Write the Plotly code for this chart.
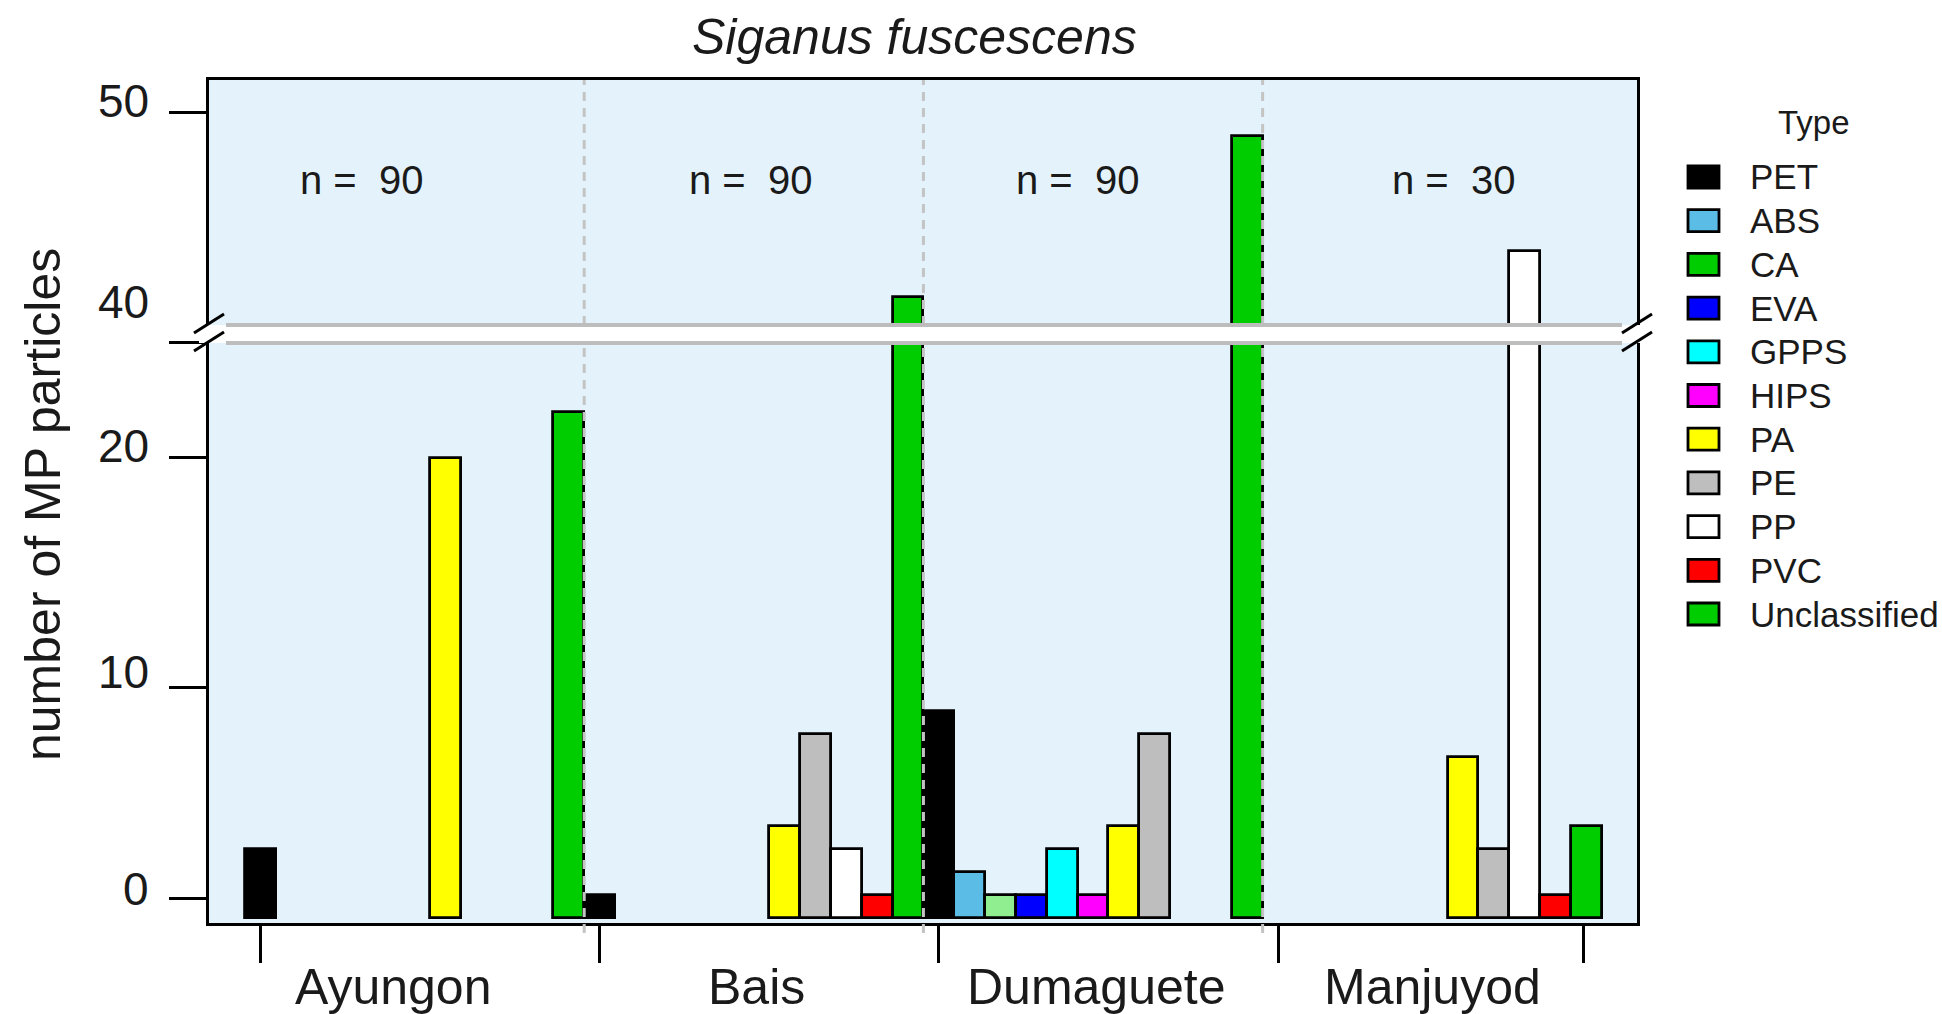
import plotly.graph_objects as go

# ---- data -------------------------------------------------------------
sites = ["Ayungon", "Bais", "Dumaguete", "Manjuyod"]
sample_sizes = [90, 90, 90, 30]
types = ["PET", "ABS", "CA", "EVA", "GPPS", "HIPS", "PA", "PE", "PP", "PVC", "Unclassified"]

ayungon = [3, 0, 0, 0, 0, 0, 20, 0, 0, 0, 22]
bais = [1, 0, 0, 0, 0, 0, 4, 8, 3, 1, 42]
dumaguete = [9, 2, 1, 1, 3, 1, 4, 8, 0, 0, 49]
manjuyod = [0, 0, 0, 0, 0, 0, 7, 3, 44, 1, 4]
counts = [ayungon, bais, dumaguete, manjuyod]

y_tick_values = [0, 10, 20, 40, 50]
y_tick_labels = ["0", "10", "20", "40", "50"]

# broken axis: values between GAP_LO and GAP_HI are cut out
GAP_LO, GAP_HI = 25, 40
GAP_SIZE = GAP_HI - GAP_LO

# ---- styling ----------------------------------------------------------
bar_colors = ["#000000", "#5BBDE6", "#90EE90", "#0000FF", "#00FFFF", "#FF00FF",
              "#FFFF00", "#BEBEBE", "#FFFFFF", "#FF0000", "#00CD00"]
key_colors = ["#000000", "#5BBDE6", "#00CD00", "#0000FF", "#00FFFF", "#FF00FF",
              "#FFFF00", "#BEBEBE", "#FFFFFF", "#FF0000", "#00CD00"]
FONT = "Liberation Sans, Arial, sans-serif"
TXT = "#1a1a1a"
PANEL_BG = "#E4F3FB"

W, H = 1942, 1014
PX_L, PX_R, PX_T, PX_B = 209, 1637, 80, 923


def px_x(px):
    return (px - PX_L) / (PX_R - PX_L)


def px_y(py):
    return (PX_B - py) / (PX_B - PX_T)


def to_plot(v):
    """Map a real count onto the compressed (gapped) axis."""
    return v - GAP_SIZE if v > GAP_LO else v


n_types = len(types)
fig = go.Figure()

for t, name in enumerate(types):
    xs, ys, real = [], [], []
    for s, site_counts in enumerate(counts):
        v = site_counts[t]
        if v > 0:
            xs.append(s * n_types + t)
            ys.append(to_plot(v))
            real.append(v)
    fig.add_trace(go.Bar(
        x=xs, y=ys, width=1.0, name=name,
        marker=dict(color=bar_colors[t], line=dict(color="black", width=2.8)),
        customdata=real,
        hovertemplate=name + ": %{customdata}<extra></extra>",
        showlegend=False,
    ))

shapes = []
annotations = []

# dashed separators between sites
for s in range(1, len(sites)):
    xb = s * n_types - 0.5
    shapes.append(dict(type="line", xref="x", yref="paper", x0=xb, x1=xb,
                       y0=-0.012, y1=1, layer="above",
                       line=dict(color="#C4C4C4", width=3, dash="9px,7px")))

# axis break band
gap_top = GAP_LO + 0.78
shapes.append(dict(type="rect", xref="paper", yref="y", x0=px_x(199), x1=px_x(1647),
                   y0=GAP_LO, y1=gap_top, fillcolor="white", line=dict(width=0),
                   layer="above"))
for yy in (GAP_LO, gap_top):
    shapes.append(dict(type="line", xref="paper", yref="y", x0=px_x(226), x1=px_x(1622),
                       y0=yy, y1=yy, layer="above",
                       line=dict(color="#BDBDBD", width=4)))
# break slashes on both frame sides
for cx in (PX_L, PX_R):
    for dy in (0, 18):
        shapes.append(dict(type="line", xref="paper", yref="paper",
                           x0=px_x(cx - 15), y0=px_y(333 + dy),
                           x1=px_x(cx + 15), y1=px_y(314 + dy),
                           layer="above", line=dict(color="black", width=3)))

# y tick labels (drawn slightly above their ticks)
label_pos = [1.26, 10.7, 20.5, 26.8, 35.5]
for lab, pos in zip(y_tick_labels, label_pos):
    annotations.append(dict(text=lab, xref="paper", yref="y", x=px_x(151), y=pos,
                            xanchor="right", yanchor="middle", showarrow=False,
                            font=dict(family=FONT, size=46, color=TXT)))

# site labels under the axis
site_label_x = [4.3, 16.1, 27.1, 38.0]
for name, xl in zip(sites, site_label_x):
    annotations.append(dict(text=name, xref="x", yref="paper", x=xl, y=px_y(987),
                            xanchor="center", yanchor="middle", showarrow=False,
                            font=dict(family=FONT, size=50, color=TXT)))

# sample sizes
n_label_x = [3.27, 15.9, 26.5, 38.7]
for n, xl in zip(sample_sizes, n_label_x):
    annotations.append(dict(text=f"n =  {n}", xref="x", yref="y", x=xl, y=32.1,
                            xanchor="center", yanchor="middle", showarrow=False,
                            font=dict(family=FONT, size=40, color=TXT)))

# axis title and chart title
annotations.append(dict(text="number of MP particles", xref="paper", yref="paper",
                        x=px_x(43), y=px_y(505), textangle=-90, showarrow=False,
                        xanchor="center", yanchor="middle",
                        font=dict(family=FONT, size=50, color=TXT)))
annotations.append(dict(text="<i>Siganus fuscescens</i>", xref="paper", yref="paper",
                        x=px_x(914), y=px_y(37), showarrow=False,
                        xanchor="center", yanchor="middle",
                        font=dict(family=FONT, size=50, color=TXT)))

# key
annotations.append(dict(text="Type", xref="paper", yref="paper", x=px_x(1814), y=px_y(123),
                        showarrow=False, xanchor="center", yanchor="middle",
                        font=dict(family=FONT, size=33, color=TXT)))
for i, name in enumerate(types):
    cy = 177 + i * 43.7
    shapes.append(dict(type="rect", xref="paper", yref="paper",
                       x0=px_x(1688), x1=px_x(1719), y0=px_y(cy + 11), y1=px_y(cy - 11),
                       fillcolor=key_colors[i], line=dict(color="black", width=2.8)))
    annotations.append(dict(text=name, xref="paper", yref="paper", x=px_x(1748), y=px_y(cy),
                            showarrow=False, xanchor="left", yanchor="middle",
                            font=dict(family=FONT, size=35, color=TXT)))

n_bars = n_types * len(sites)
fig.update_layout(
    width=W, height=H, autosize=False,
    margin=dict(l=PX_L, r=W - PX_R, t=PX_T, b=H - PX_B),
    paper_bgcolor="white", plot_bgcolor=PANEL_BG,
    barmode="overlay", bargap=0,
    showlegend=False,
    shapes=shapes, annotations=annotations,
    xaxis=dict(range=[-1.667, n_bars + 0.64], showgrid=False, zeroline=False,
               tickvals=[0, 11, 22, 33, n_bars - 1.1], showticklabels=False,
               ticks="outside", ticklen=37, tickwidth=2.5, tickcolor="black",
               showline=True, mirror=True, linecolor="black", linewidth=3),
    yaxis=dict(range=[-0.217, 36.43], showgrid=False, zeroline=False,
               tickvals=[0.87, 10, 20, to_plot(40), to_plot(50)],
               showticklabels=False,
               ticks="outside", ticklen=37, tickwidth=2.5, tickcolor="black",
               showline=True, mirror=True, linecolor="black", linewidth=3),
)

fig.write_html("out.html")
